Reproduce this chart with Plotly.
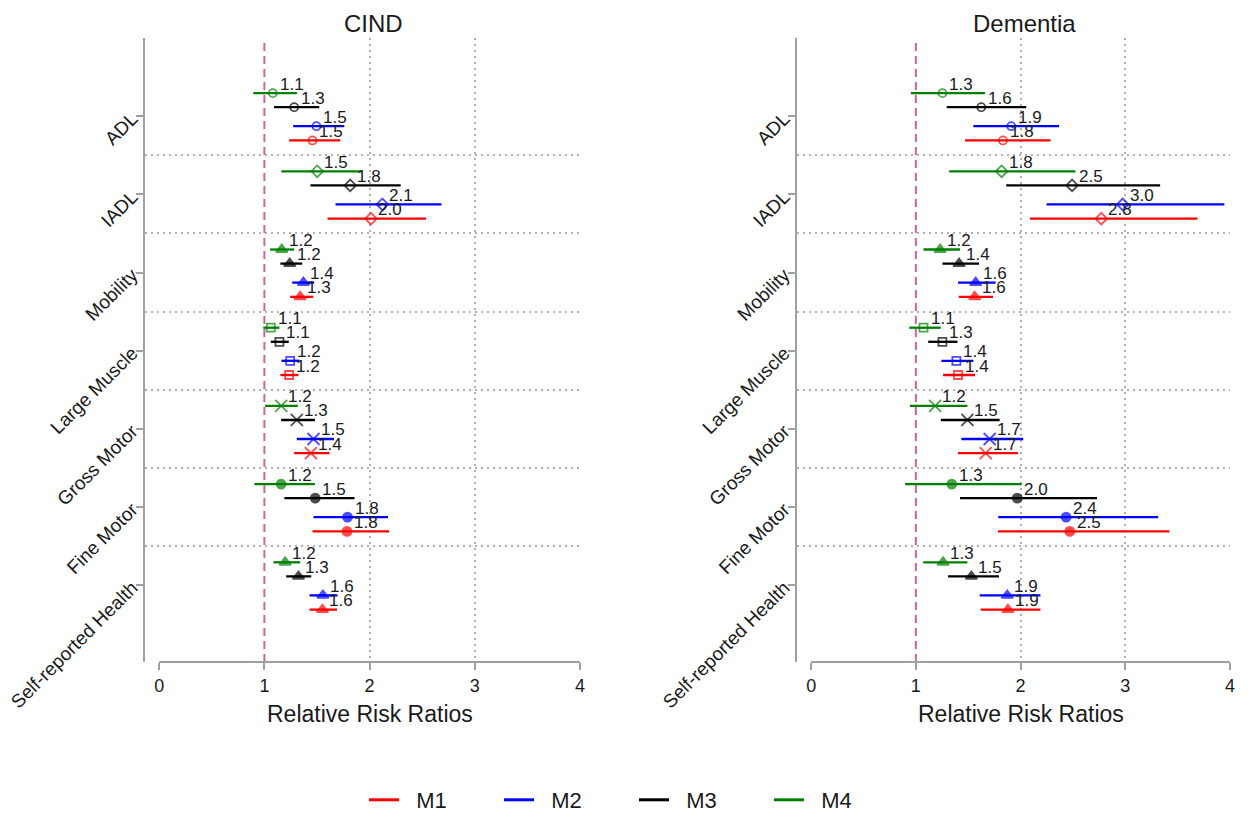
import plotly.graph_objects as go

categories = ["ADL", "IADL", "Mobility", "Large Muscle", "Gross Motor", "Fine Motor", "Self-reported Health"]
cat_symbols = ["circle-open", "diamond-open", "triangle-up", "square-open", "x-thin-open", "circle", "triangle-up"]
models = ["M1", "M2", "M3", "M4"]
model_colors = {"M1": "#ff0000", "M2": "#0000ff", "M3": "#000000", "M4": "#008000"}
model_offsets = {"M4": -0.295, "M3": -0.115, "M2": 0.128, "M1": 0.31}
x_ticks = [0, 1, 2, 3, 4]

# CIND relative risk ratios and 95% CI
cind_rr = {
    "M1": [1.457, 2.013, 1.34, 1.235, 1.442, 1.785, 1.552],
    "M2": [1.495, 2.121, 1.371, 1.245, 1.467, 1.79, 1.556],
    "M3": [1.283, 1.816, 1.24, 1.143, 1.308, 1.483, 1.324],
    "M4": [1.08, 1.502, 1.165, 1.061, 1.16, 1.159, 1.197],
}
cind_lo = {
    "M1": [1.235, 1.6, 1.245, 1.152, 1.283, 1.457, 1.429],
    "M2": [1.273, 1.676, 1.264, 1.162, 1.308, 1.467, 1.429],
    "M3": [1.092, 1.438, 1.152, 1.061, 1.159, 1.19, 1.207],
    "M4": [0.895, 1.162, 1.054, 0.99, 1.007, 0.905, 1.086],
}
cind_hi = {
    "M1": [1.721, 2.537, 1.464, 1.324, 1.619, 2.185, 1.69],
    "M2": [1.759, 2.683, 1.473, 1.333, 1.661, 2.175, 1.695],
    "M3": [1.521, 2.295, 1.359, 1.232, 1.48, 1.857, 1.445],
    "M4": [1.309, 1.921, 1.283, 1.143, 1.318, 1.48, 1.34],
}

# Dementia relative risk ratios and 95% CI
dem_rr = {
    "M1": [1.832, 2.771, 1.562, 1.403, 1.667, 2.47, 1.879],
    "M2": [1.911, 2.975, 1.571, 1.387, 1.705, 2.435, 1.873],
    "M3": [1.625, 2.492, 1.413, 1.254, 1.492, 1.968, 1.53],
    "M4": [1.254, 1.819, 1.232, 1.073, 1.184, 1.343, 1.26],
}
dem_lo = {
    "M1": [1.47, 2.089, 1.41, 1.26, 1.403, 1.784, 1.619],
    "M2": [1.549, 2.248, 1.403, 1.244, 1.435, 1.787, 1.61],
    "M3": [1.295, 1.863, 1.254, 1.118, 1.238, 1.422, 1.308],
    "M4": [0.952, 1.318, 1.073, 0.937, 0.943, 0.898, 1.07],
}
dem_hi = {
    "M1": [2.286, 3.689, 1.737, 1.565, 1.975, 3.422, 2.19],
    "M2": [2.368, 3.946, 1.762, 1.549, 2.025, 3.314, 2.19],
    "M3": [2.054, 3.333, 1.603, 1.397, 1.8, 2.73, 1.794],
    "M4": [1.66, 2.524, 1.422, 1.238, 1.492, 2.01, 1.492],
}

FONT = "Arial, Liberation Sans, sans-serif"
AXIS_GRAY = "#a0a0a0"
GRID_GRAY = "#b0b0b0"
TEXT = "#1a1a1a"
symbol_sizes = {"circle-open": 8, "diamond-open": 9, "triangle-up": 10, "square-open": 8,
                "x-thin-open": 12, "circle": 9}

fig = go.Figure()
annotations = []

panels = [("x", "y", cind_rr, cind_lo, cind_hi), ("x2", "y2", dem_rr, dem_lo, dem_hi)]
for xa, ya, rr, lo, hi in panels:
    for m in ["M4", "M3", "M2", "M1"]:
        xs = rr[m]
        ys = [i + model_offsets[m] for i in range(len(categories))]
        plus = [h - v for h, v in zip(hi[m], xs)]
        minus = [v - l for v, l in zip(xs, lo[m])]
        fig.add_trace(go.Scatter(
            x=xs, y=ys, xaxis=xa, yaxis=ya,
            mode="markers",
            marker=dict(symbol=cat_symbols, size=[symbol_sizes[s] for s in cat_symbols],
                        color=model_colors[m],
                        line=dict(color=model_colors[m], width=1.8)),
            error_x=dict(type="data", symmetric=False, array=plus, arrayminus=minus,
                         color=model_colors[m], thickness=2.3, width=0),
            showlegend=False, hoverinfo="skip", cliponaxis=False,
        ))
        for xv, yv in zip(xs, ys):
            annotations.append(dict(
                text=f"{xv:.1f}", x=xv, y=yv, xref=xa, yref=ya, showarrow=False,
                xanchor="left", yanchor="middle", xshift=5, yshift=9,
                font=dict(family=FONT, size=17, color=TEXT)))

# legend entries (lines only)
for m in models:
    fig.add_trace(go.Scatter(x=[None], y=[None], mode="lines", name="\u00a0\u00a0" + m,
                             line=dict(color=model_colors[m], width=3)))

# page has an 8px body margin; figure placed at (8, 8)
OX, OY = 8.0, 8.0
W = 1242.0
H = 809.0


def px_x(p):
    return (p - OX) / W


def px_y(p):
    return 1 - (p - OY) / H


ydom = [px_y(662), px_y(38)]
xdom1 = [px_x(145), px_x(580)]
xdom2 = [px_x(797), px_x(1230)]
xrange_ = [-0.135, 4.0]
yrange_ = [6.98, -1.0]
mid_grid = [i + 0.5 for i in range(len(categories) - 1)]

common_x = dict(
    range=xrange_, tickvals=x_ticks, ticktext=[str(t) for t in x_ticks],
    showgrid=False, zeroline=False, showline=False, automargin=False,
    ticks="outside", ticklen=7, tickwidth=2, tickcolor=AXIS_GRAY,
    tickfont=dict(family=FONT, size=18, color=TEXT),
    minor=dict(tickvals=x_ticks[2:], showgrid=True, gridcolor=GRID_GRAY,
               griddash="2px,4px", gridwidth=1.5, ticks=""),
)
common_y = dict(
    range=yrange_, tickvals=list(range(len(categories))), ticktext=categories,
    tickangle=-45, showgrid=False, zeroline=False, automargin=False,
    showline=True, linecolor=AXIS_GRAY, linewidth=2,
    ticks="outside", ticklen=7, tickwidth=2, tickcolor=AXIS_GRAY,
    tickfont=dict(family=FONT, size=19, color=TEXT),
    minor=dict(tickvals=mid_grid, showgrid=True, gridcolor=GRID_GRAY,
               griddash="2px,4px", gridwidth=1.5, ticks=""),
)

fig.update_layout(
    width=int(W), height=int(H),
    margin=dict(l=0, r=0, t=0, b=0, autoexpand=False),
    paper_bgcolor="white", plot_bgcolor="white",
    xaxis=dict(domain=xdom1, anchor="y", **common_x),
    yaxis=dict(domain=ydom, anchor="x", **common_y),
    xaxis2=dict(domain=xdom2, anchor="y2", **common_x),
    yaxis2=dict(domain=ydom, anchor="x2", **common_y),
    legend=dict(orientation="h", x=px_x(634), xanchor="center", y=px_y(800), yanchor="middle",
                entrywidth=90, entrywidthmode="pixels",
                font=dict(family=FONT, size=22, color=TEXT)),
    font=dict(family=FONT),
)

shapes = []
for xr, yr in [("x", "y"), ("x2", "y2")]:
    # reference line at RRR = 1
    shapes.append(dict(type="line", xref=xr, yref=f"{yr} domain", x0=1, x1=1, y0=0, y1=1,
                       line=dict(color="#cc6699", width=2, dash="8px,5px"), layer="above"))
    # x axis line from 0 to 4
    shapes.append(dict(type="line", xref=xr, yref=f"{yr} domain", x0=x_ticks[0], x1=x_ticks[-1],
                       y0=0, y1=0, line=dict(color=AXIS_GRAY, width=2)))
fig.update_layout(shapes=shapes)

for xr, title in [("x", "CIND"), ("x2", "Dementia")]:
    annotations.append(dict(text=title, xref=xr, yref="paper", x=2.04, y=px_y(23),
                            showarrow=False, font=dict(family=FONT, size=24, color=TEXT),
                            xanchor="center", yanchor="middle"))
    annotations.append(dict(text="Relative Risk Ratios", xref=xr, yref="paper", x=2,
                            y=px_y(714), showarrow=False,
                            font=dict(family=FONT, size=23, color=TEXT),
                            xanchor="center", yanchor="middle"))
fig.update_layout(annotations=annotations)

fig.write_html("out.html")
